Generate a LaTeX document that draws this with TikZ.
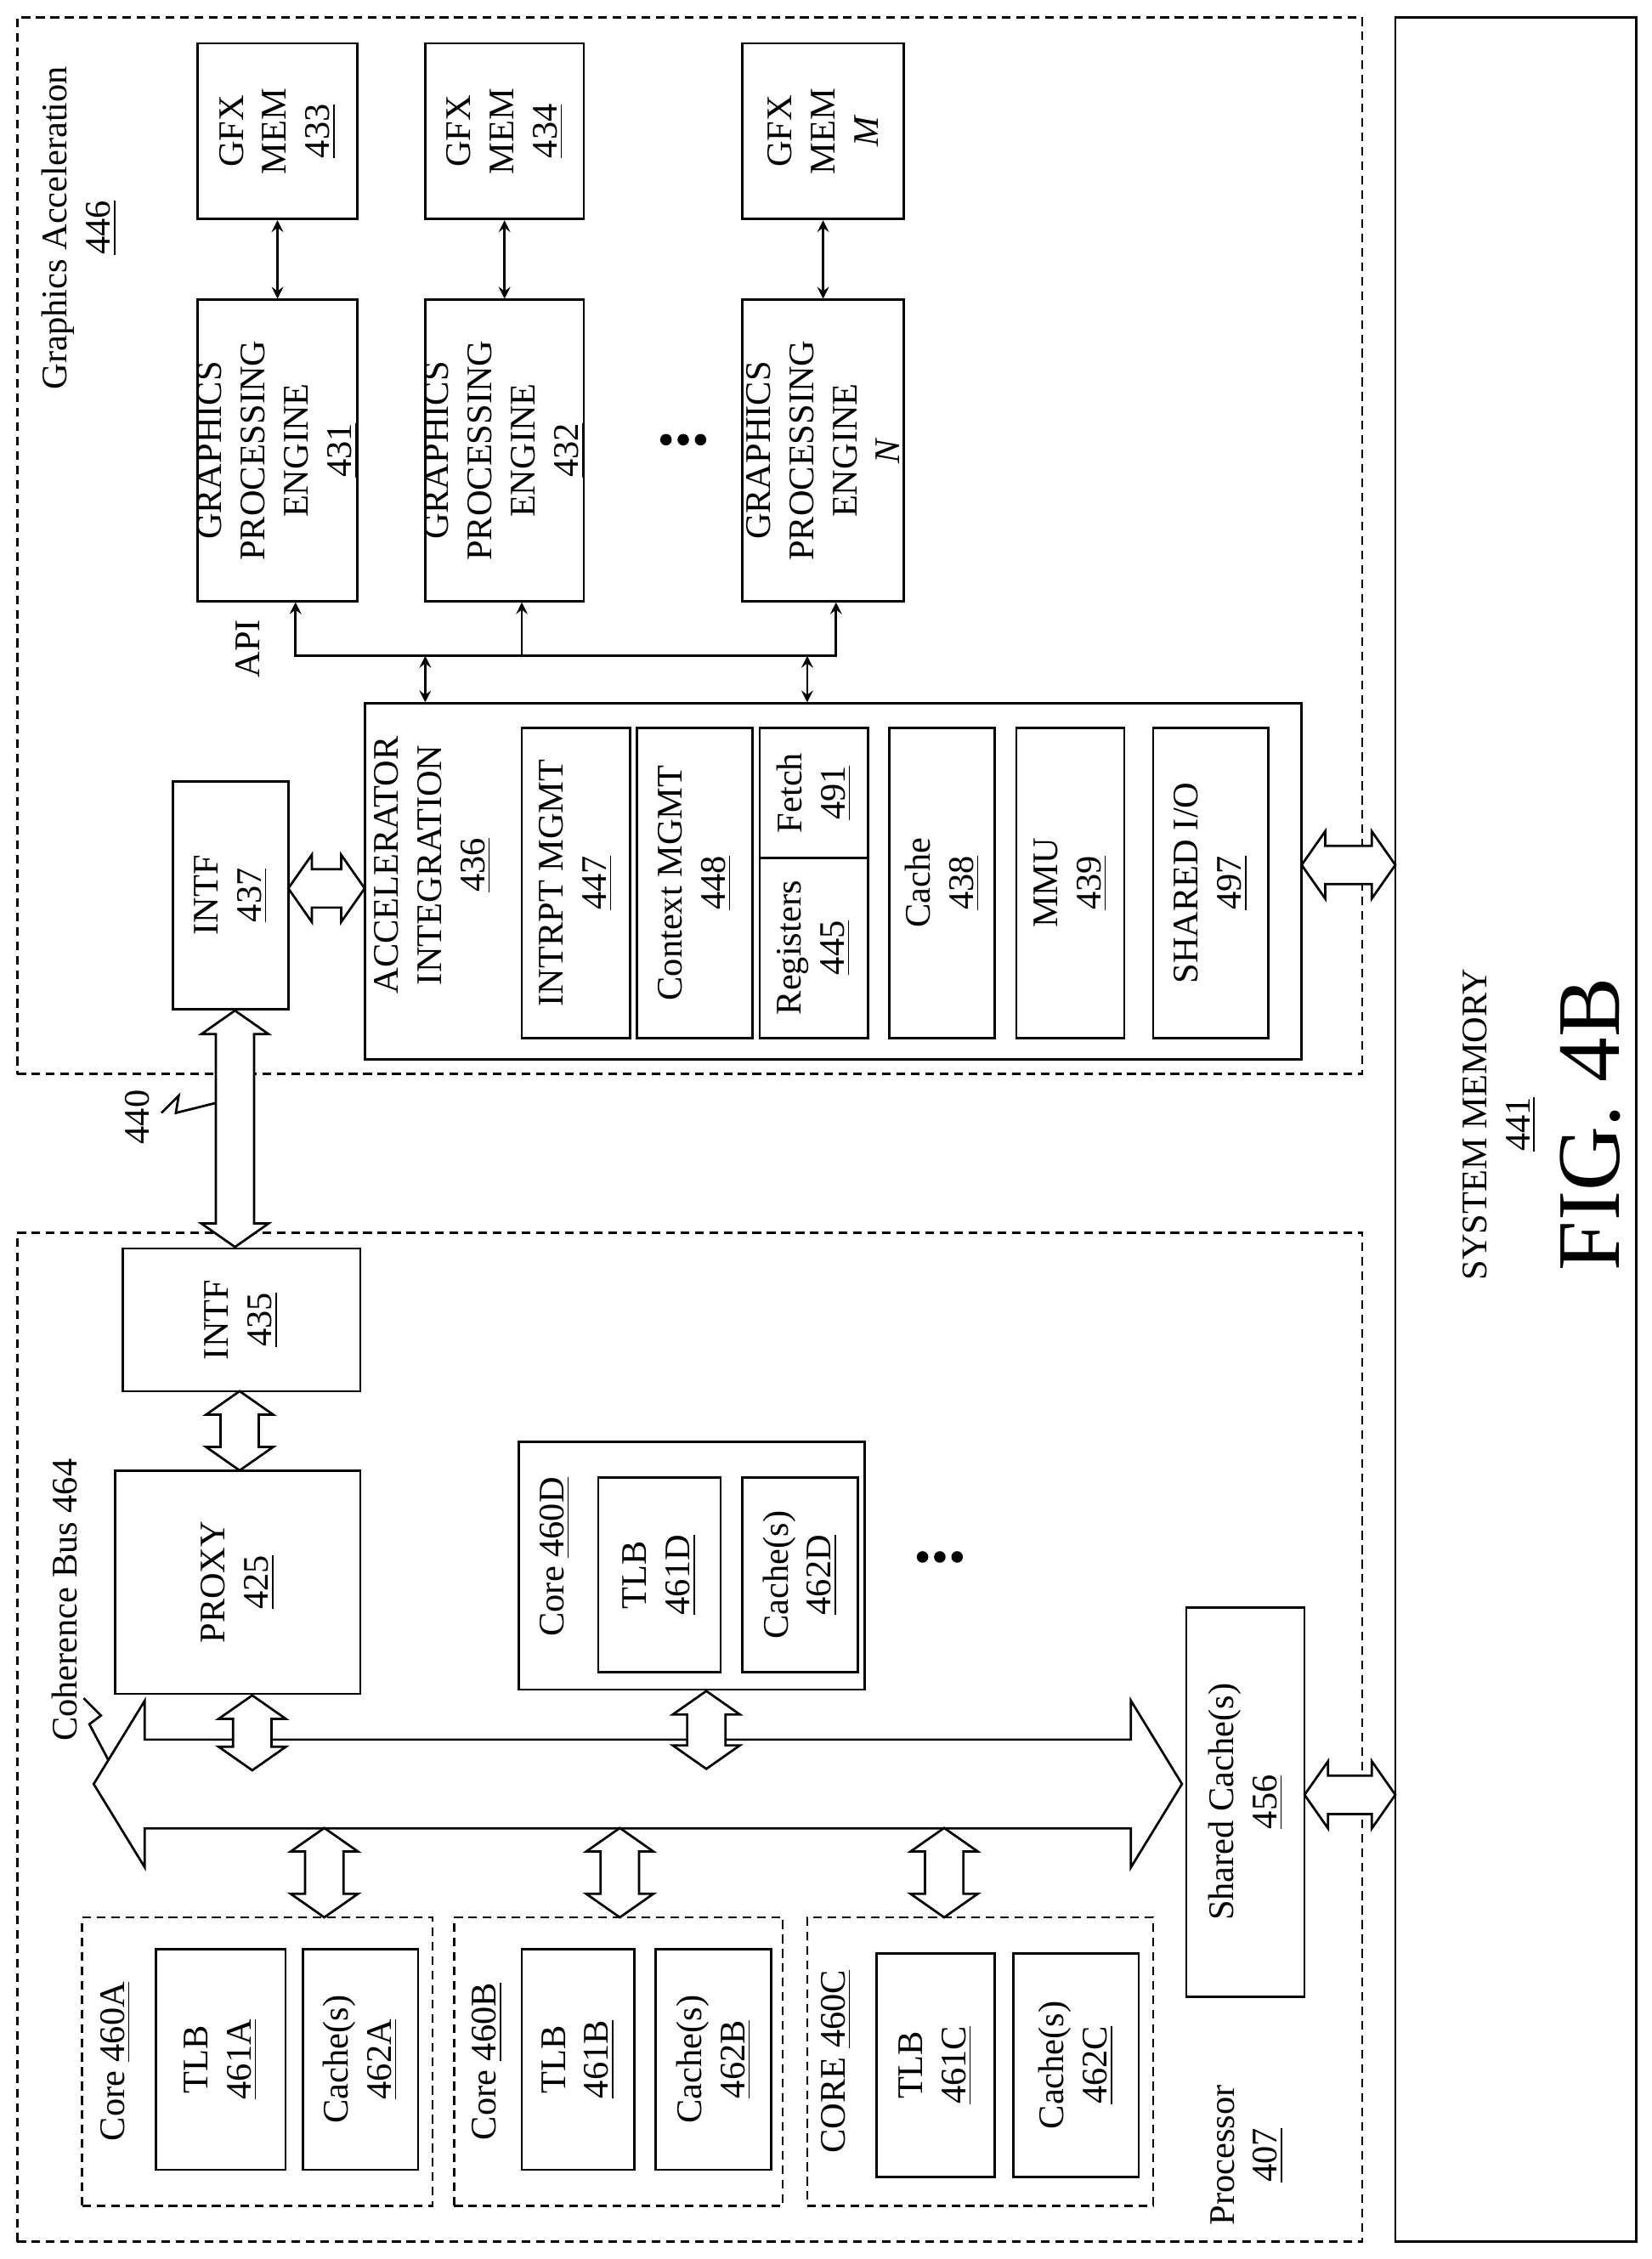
\documentclass[tikz,border=0pt]{standalone}
\usepackage{fontspec}
\setmainfont{Liberation Serif}
\usetikzlibrary{shapes.arrows,fit,calc}

\tikzset{
  box/.style={draw, thick, inner sep=0pt},
  dbox/.style={draw, thick, dash pattern=on 3pt off 2pt, inner sep=0pt},
  lbl/.style={rotate=90, align=center, font=\fontsize{12.5}{15}\selectfont},
  fat/.style={draw, thick, double arrow, inner xsep=0pt, inner ysep=6.25pt,
    double arrow head extend=5pt, double arrow tip angle=110, fill=white},
  thin/.style={thick, >=stealth},
}
\newcommand{\blk}[6][box]{\node[#1, fit={(#3,#4) (#5,#6)}] (#2) {};}

\begin{document}
\begin{tikzpicture}[x=0.5pt, y=-0.5pt]
    \useasboundingbox (0,0) rectangle (1146,1567);

    % Graphics acceleration
    \blk[dbox]{gfx}{12}{12}{945}{745}
    \node[lbl] (gfxl) at (55,158) {Graphics Acceleration\\\underline{446}};

    \blk{m433}{137}{30}{248}{152}
    \blk{m434}{295}{30}{405}{152}
    \blk{mM}{515}{30}{627}{152}
    \node[lbl] at (m433) {GFX\\MEM\\\underline{433}};
    \node[lbl] at (m434) {GFX\\MEM\\\underline{434}};
    \node[lbl] at (mM) {GFX\\MEM\\\textit{M}};

    \blk{g431}{137}{208}{248}{417}
    \blk{g432}{295}{208}{405}{417}
    \blk{gN}{515}{208}{627}{417}
    \node[lbl] at (g431) {GRAPHICS\\PROCESSING\\ENGINE\\\underline{431}};
    \node[lbl] at (g432) {GRAPHICS\\PROCESSING\\ENGINE\\\underline{432}};
    \node[lbl] at (gN) {GRAPHICS\\PROCESSING\\ENGINE\\\textit{N}};
    \foreach \x in {462,474,486} \fill (\x,305) circle (2pt);

    \draw[thin, <->] (m433.south -| g431) -- (g431.north);
    \draw[thin, <->] (m434.south -| g432) -- (g432.north);
    \draw[thin, <->] (mM.south -| gN) -- (gN.north);

    % API bus
    \node[lbl] (api) at (172,450) {API};
    \coordinate (apiL) at (205,455);
    \coordinate (apiR) at (580,455);
    \draw[thin, <->] (g431.south -| apiL) -- (apiL) -- (apiR) -- (gN.south -| apiR);
    \draw[thin, ->] (362,455) -- (g432.south -| 362,0);

    % Accelerator integration
    \blk{acc}{253}{488}{903}{735}
    \node[lbl] at (300,600) {ACCELERATOR\\INTEGRATION\\\underline{436}};
    \draw[thin, <->] (295,455) -- (acc.north -| 295,0);
    \draw[thin, <->] (560,455) -- (acc.north -| 560,0);
    \blk{i447}{362}{505}{437}{720}
    \blk{c448}{442}{505}{522}{720}
    \blk{f491}{527}{505}{602}{595}
    \blk{r445}{527}{595}{602}{720}
    \blk{c438}{617}{505}{690}{720}
    \blk{m439}{705}{505}{780}{720}
    \blk{s497}{800}{505}{880}{720}
    \node[lbl] at (i447) {INTRPT MGMT\\\underline{447}};
    \node[lbl] at (c448) {Context MGMT\\\underline{448}};
    \node[lbl] at (f491) {Fetch\\\underline{491}};
    \node[lbl] at (r445) {Registers\\\underline{445}};
    \node[lbl] at (c438) {Cache\\\underline{438}};
    \node[lbl] at (m439) {MMU\\\underline{439}};
    \node[lbl] at (s497) {SHARED I/O\\\underline{497}};

    \blk{i437}{120}{542}{200}{700}
    \node[lbl] at (i437) {INTF\\\underline{437}};
    \node[fat, minimum height=26.5pt] at ($(i437.east)!.5!(acc.west)$) {};

    % System memory
    \blk{mem}{968}{12}{1135}{1555}
    \node[lbl] at (1040,780) {SYSTEM MEMORY\\\underline{441}};
    \node[rotate=90, font=\fontsize{31}{34}\selectfont] at (1103,780) {FIG. 4B};
    \node[fat, minimum height=32.5pt] at (935.5,600) {};

    % Processor
    \blk[dbox]{proc}{12}{855}{945}{1555}
    \node[lbl] at (865,1495) {Processor\\\underline{407}};
    \node[lbl] at (45,1110) {Coherence Bus 464};
    \draw[thick] (58,1178) -- (70,1190) -- (62,1196) -- (80,1230);

    \blk{i435}{85}{866}{250}{965}
    \blk{p425}{80}{1020}{250}{1175}
    \node[lbl] at (i435) {INTF\\\underline{435}};
    \node[lbl] at (p425) {PROXY\\\underline{425}};
    \node[fat, rotate=90, minimum height=82pt] (l440) at (163,783) {};
    \node[lbl] at (95,775) {440};
    \draw[thick] (112,772) -- (124,760) -- (122,772) -- (150,765);
    \node[fat, rotate=90, minimum height=27.5pt] at ($(i435.south)!.5!(p425.north)$) {};

    \blk{c460D}{360}{1000}{600}{1172}
    \node[lbl] at (385,1080) {Core \underline{460D}};
    \blk{t461D}{415}{1025}{500}{1160}
    \blk{k462D}{515}{1025}{595}{1160}
    \node[lbl] at (t461D) {TLB\\\underline{461D}};
    \node[lbl] at (k462D) {Cache(s)\\\underline{462D}};
    \foreach \x in {640,652,664} \fill (\x,1080) circle (2pt);

    \blk{s456}{823}{1115}{905}{1385}
    \node[lbl] at (s456) {Shared Cache(s)\\\underline{456}};

    % Coherence bus
    \node[draw, thick, double arrow, inner xsep=0pt, inner ysep=15pt, fill=white,
      double arrow head extend=13.5pt, double arrow tip angle=117,
      minimum height=377.5pt] (bus) at (442.5,1237.5) {};
    \node[fat, rotate=90, minimum height=26pt] at (175,1202) {};
    \node[fat, rotate=90, minimum height=27pt] at (490,1200) {};
    \node[fat, minimum height=31.5pt] at (936.5,1245) {};
    \foreach \x in {225,430,655}
      \node[fat, rotate=90, minimum height=31pt] at (\x,1299) {};

    % Cores
    \blk[dbox]{c460A}{57}{1330}{300}{1530}
    \blk[dbox]{c460B}{315}{1330}{543}{1530}
    \blk[dbox]{c460C}{560}{1330}{800}{1530}
    \node[lbl] at (80,1430) {Core \underline{460A}};
    \node[lbl] at (338,1430) {Core \underline{460B}};
    \node[lbl] at (580,1430) {CORE \underline{460C}};
    \blk{t461A}{108}{1352}{198}{1505}
    \blk{k462A}{210}{1352}{290}{1505}
    \blk{t461B}{362}{1352}{440}{1505}
    \blk{k462B}{455}{1352}{535}{1505}
    \blk{t461C}{608}{1355}{690}{1510}
    \blk{k462C}{703}{1355}{790}{1510}
    \node[lbl] at (t461A) {TLB\\\underline{461A}};
    \node[lbl] at (k462A) {Cache(s)\\\underline{462A}};
    \node[lbl] at (t461B) {TLB\\\underline{461B}};
    \node[lbl] at (k462B) {Cache(s)\\\underline{462B}};
    \node[lbl] at (t461C) {TLB\\\underline{461C}};
    \node[lbl] at (k462C) {Cache(s)\\\underline{462C}};
\end{tikzpicture}
\end{document}
